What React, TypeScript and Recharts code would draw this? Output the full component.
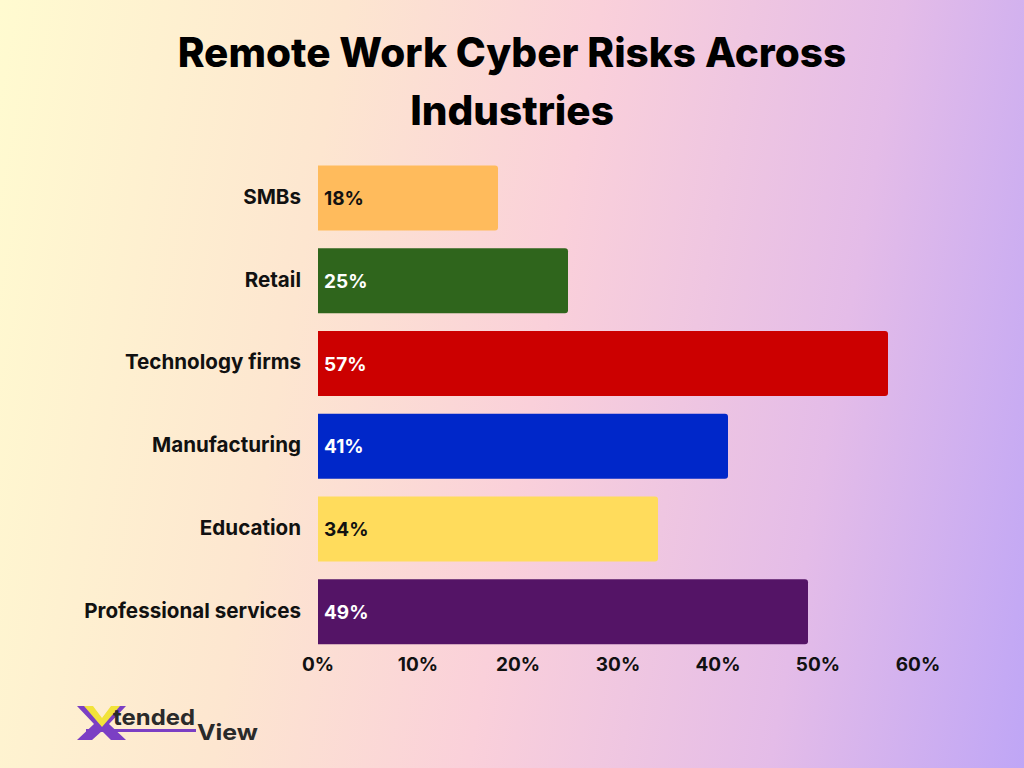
import { BarChart, Bar, Cell, XAxis, YAxis, LabelList } from 'recharts';

const industries = ['SMBs', 'Retail', 'Technology firms', 'Manufacturing', 'Education', 'Professional services'];
const riskShare = [18, 25, 57, 41, 34, 49];
const barColors = ['#ffbb5c', '#2f651c', '#cc0000', '#0027c9', '#ffdc5c', '#541466'];
const labelColors = ['#111111', '#ffffff', '#ffffff', '#ffffff', '#111111', '#ffffff'];
const xTicks = [0, 10, 20, 30, 40, 50, 60];

const data = industries.map((name, i) => ({ name, value: riskShare[i] }));

const FONT = 'Inter, Roboto, "DejaVu Sans", sans-serif';

const CategoryTick = (props: any) => {
  const { x, y, payload } = props;
  return (
    <text x={x - 9} y={y} dy={6} textAnchor="end" fontFamily={FONT} fontWeight={700} fontSize={20.6} fill="#111">
      {payload.value}
    </text>
  );
};

const PercentTick = (props: any) => {
  const { x, y, payload } = props;
  return (
    <text x={x} y={y} dy={10} textAnchor="middle" fontFamily={FONT} fontWeight={700} fontSize={19} fill="#111">
      {payload.value}%
    </text>
  );
};

const InsideLabel = (props: any) => {
  const { x, y, height, value, index } = props;
  return (
    <text x={x + 6} y={y + height / 2} dy={7} fontFamily={FONT} fontWeight={700} fontSize={19} fill={labelColors[index]}>
      {value}%
    </text>
  );
};

function Logo() {
  return (
    <svg width={200} height={50} style={{ position: 'absolute', left: 74, top: 703 }}>
      <polygon points="3,3 18,3 28,16 38,3 52,3 35,21 52,37 37,37 28,28 18,37 3,37 20,21" fill="#7b3fc4" />
      <polygon points="10,3 19,3 28,15 37,3 46,3 28,24" fill="#f2e33a" />
      <text x={39} y={22} fontFamily={FONT} fontWeight={700} fontSize={22} fill="#2a2a2a" textLength={82} lengthAdjust="spacingAndGlyphs">
        tended
      </text>
      <rect x={12} y={26} width={110} height={3} fill="#7b3fc4" />
      <text x={123} y={37} fontFamily={FONT} fontWeight={700} fontSize={22} fill="#2a2a2a" textLength={61} lengthAdjust="spacingAndGlyphs">
        View
      </text>
    </svg>
  );
}

export default function App() {
  return (
    <div
      style={{
        position: 'absolute',
        left: 0,
        top: 0,
        width: 1024,
        height: 768,
        overflow: 'hidden',
        background: 'linear-gradient(100deg, #fffbd0 0%, #fde6d0 30%, #fad0da 52%, #e4bce8 78%, #bfa6f6 100%)',
      }}
    >
      <div
        style={{
          position: 'absolute',
          left: 0,
          top: 24,
          width: 1024,
          textAlign: 'center',
          fontFamily: FONT,
          fontWeight: 800,
          fontSize: 40.5,
          lineHeight: '58px',
          color: '#000',
        }}
      >
        Remote Work Cyber Risks Across
        <br />
        Industries
      </div>
      <div style={{ position: 'absolute', left: 0, top: 0 }}>
        <BarChart
          width={1024}
          height={768}
          data={data}
          layout="vertical"
          margin={{ top: 156.5, right: 106, bottom: 75, left: 0 }}
        >
          <XAxis
            type="number"
            domain={[0, 60]}
            ticks={xTicks}
            axisLine={false}
            tickLine={false}
            tick={<PercentTick />}
            interval={0}
            height={40}
          />
          <YAxis
            type="category"
            dataKey="name"
            width={318}
            axisLine={false}
            tickLine={false}
            tick={<CategoryTick />}
            interval={0}
          />
          <Bar dataKey="value" barSize={65} radius={[0, 3, 3, 0]} isAnimationActive={false}>
            {data.map((d, i) => (
              <Cell key={d.name} fill={barColors[i]} />
            ))}
            <LabelList dataKey="value" content={<InsideLabel />} />
          </Bar>
        </BarChart>
      </div>
      <Logo />
    </div>
  );
}
